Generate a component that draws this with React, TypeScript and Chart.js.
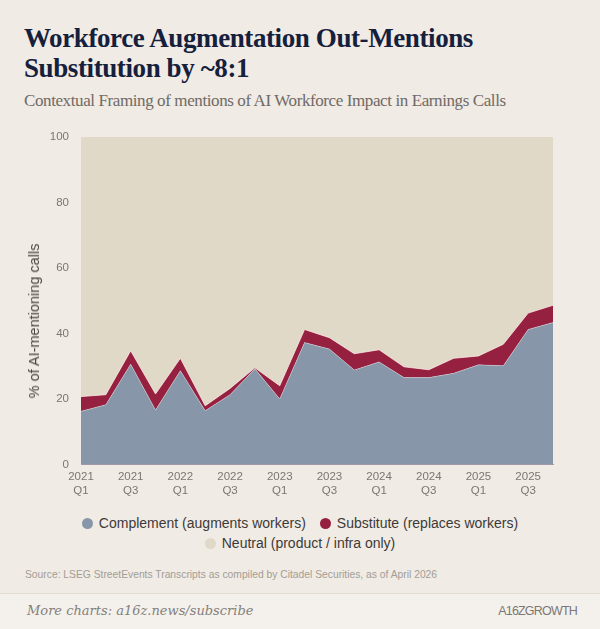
import React, { useEffect, useRef } from "react";
import { Chart, registerables } from "chart.js";

Chart.register(...registerables);

const quarterLabels = [
  "2021 Q1", "2021 Q2", "2021 Q3", "2021 Q4",
  "2022 Q1", "2022 Q2", "2022 Q3", "2022 Q4",
  "2023 Q1", "2023 Q2", "2023 Q3", "2023 Q4",
  "2024 Q1", "2024 Q2", "2024 Q3", "2024 Q4",
  "2025 Q1", "2025 Q2", "2025 Q3", "2025 Q4",
];

const complementValues = [16.2, 18.2, 30.6, 16.6, 28.6, 16.4, 21.3, 29.2, 20.0, 37.2, 35.2, 28.8, 31.3, 26.5, 26.5, 27.8, 30.4, 30.1, 41.2, 43.3];
const substituteValues = [4.5, 3.1, 4.1, 4.9, 3.8, 1.5, 1.9, 0.3, 4.0, 4.0, 3.5, 5.0, 3.7, 3.3, 2.4, 4.6, 2.7, 6.6, 5.0, 5.3];
const neutralValues = [79.3, 78.7, 65.3, 78.5, 67.6, 82.1, 76.8, 70.5, 76.0, 58.8, 61.3, 66.2, 65.0, 70.2, 71.1, 67.6, 66.9, 63.3, 53.8, 51.4];

const seriesNames = ["Complement (augments workers)", "Substitute (replaces workers)", "Neutral (product / infra only)"];
const seriesColors = ["#8796a9", "#962040", "#e1d9c7"];
const yTicks = [0, 20, 40, 60, 80, 100];
const yAxisTitle = "% of AI-mentioning calls";

const BG = "#f0ebe4";

export default function App() {
  const canvasRef = useRef<HTMLCanvasElement | null>(null);

  useEffect(() => {
    const canvas = canvasRef.current;
    if (!canvas) return;
    const chart = new Chart(canvas, {
      type: "line",
      data: {
        labels: quarterLabels,
        datasets: [
          {
            label: seriesNames[0],
            data: complementValues,
            backgroundColor: seriesColors[0],
            borderColor: "rgba(255,255,255,0.35)",
            borderWidth: 1,
            fill: "origin",
            pointRadius: 0,
            tension: 0,
          },
          {
            label: seriesNames[1],
            data: substituteValues,
            backgroundColor: seriesColors[1],
            borderColor: "rgba(255,235,235,0.75)",
            borderWidth: 1,
            fill: "-1",
            pointRadius: 0,
            tension: 0,
          },
          {
            label: seriesNames[2],
            data: neutralValues,
            backgroundColor: seriesColors[2],
            borderColor: "rgba(0,0,0,0)",
            borderWidth: 0,
            fill: "-1",
            pointRadius: 0,
            tension: 0,
          },
        ],
      },
      options: {
        responsive: false,
        animation: false,
        layout: { padding: { left: 50, right: 47, top: 17, bottom: 4 } },
        plugins: {
          legend: { display: false },
          tooltip: { enabled: false },
        },
        scales: {
          x: {
            type: "category",
            offset: false,
            grid: { display: false, drawTicks: false },
            border: { display: true, color: "#a39ca6", width: 1 },
            ticks: {
              autoSkip: false,
              maxRotation: 0,
              padding: 6,
              color: "#7a7672",
              font: { family: "'Liberation Sans', Arial, sans-serif", size: 11.5 },
              callback: (_v: any, i: number) => (i % 2 === 0 ? quarterLabels[i].split(" ") : ""),
            },
          },
          y: {
            stacked: true,
            min: yTicks[0],
            max: yTicks[yTicks.length - 1],
            grid: { display: false, drawTicks: false },
            border: { display: false },
            afterBuildTicks: (axis: any) => {
              axis.ticks = yTicks.map((v) => ({ value: v }));
            },
            afterFit: (axis: any) => {
              axis.width = 31;
            },
            ticks: {
              padding: 12,
              color: "#7a7672",
              font: { family: "'Liberation Sans', Arial, sans-serif", size: 11.5 },
            },
          },
        },
      },
    });
    return () => chart.destroy();
  }, []);

  const legendItem = (i: number) => (
    <span key={i} style={{ display: "inline-flex", alignItems: "center", margin: "0 7px" }}>
      <span
        style={{
          display: "inline-block",
          width: 11,
          height: 11,
          borderRadius: "50%",
          background: seriesColors[i],
          marginRight: 6,
        }}
      />
      {seriesNames[i]}
    </span>
  );

  return (
    <div
      style={{
        position: "absolute",
        left: 0,
        top: 0,
        width: 600,
        height: 629,
        background: BG,
        overflow: "hidden",
      }}
    >
      <div
        style={{
          position: "absolute",
          left: 24,
          top: 23,
          fontFamily: "'Liberation Serif', 'DejaVu Serif', serif",
          fontWeight: 700,
          fontSize: 27,
          lineHeight: "30px",
          color: "#15203d",
          letterSpacing: -0.4,
          whiteSpace: "nowrap",
        }}
      >
        Workforce Augmentation Out-Mentions
        <br />
        Substitution by ~8:1
      </div>
      <div
        style={{
          position: "absolute",
          left: 24,
          top: 91,
          fontFamily: "'Liberation Serif', 'DejaVu Serif', serif",
          fontSize: 17,
          color: "#6f6a66",
          letterSpacing: -0.4,
          whiteSpace: "nowrap",
        }}
      >
        Contextual Framing of mentions of AI Workforce Impact in Earnings Calls
      </div>
      <canvas
        ref={canvasRef}
        width={600}
        height={390}
        style={{ position: "absolute", left: 0, top: 118, width: 600, height: 390 }}
      />
      <div
        style={{
          position: "absolute",
          left: 34,
          top: 321,
          transform: "translate(-50%, -50%) rotate(-90deg)",
          fontFamily: "'Liberation Sans', Arial, sans-serif",
          fontSize: 14.5,
          color: "#4a4643",
          whiteSpace: "nowrap",
        }}
      >
        {yAxisTitle}
      </div>
      <div
        style={{
          position: "absolute",
          left: 0,
          top: 514,
          width: 600,
          textAlign: "center",
          fontFamily: "'Liberation Sans', Arial, sans-serif",
          fontSize: 14,
          lineHeight: "19px",
          color: "#3d3a38",
        }}
      >
        <div>
          {legendItem(0)}
          {legendItem(1)}
        </div>
        <div>{legendItem(2)}</div>
      </div>
      <div
        style={{
          position: "absolute",
          left: 25,
          top: 569,
          fontFamily: "'Liberation Sans', Arial, sans-serif",
          fontSize: 10.3,
          color: "#a39d96",
          whiteSpace: "nowrap",
        }}
      >
        Source: LSEG StreetEvents Transcripts as compiled by Citadel Securities, as of April 2026
      </div>
      <div
        style={{
          position: "absolute",
          left: 0,
          top: 593,
          width: 600,
          height: 36,
          background: "#f4f1ec",
          borderTop: "1px solid #e2dbd0",
        }}
      >
        <div
          style={{
            position: "absolute",
            left: 27,
            top: 9,
            fontFamily: "'DejaVu Serif', 'Liberation Serif', serif",
            fontStyle: "italic",
            fontSize: 13,
            color: "#85807b",
            whiteSpace: "nowrap",
          }}
        >
          More charts: a16z.news/subscribe
        </div>
        <div
          style={{
            position: "absolute",
            right: 23,
            top: 10,
            fontFamily: "'Liberation Sans', Arial, sans-serif",
            fontSize: 12.5,
            color: "#7d7874",
            letterSpacing: -0.8,
            whiteSpace: "nowrap",
          }}
        >
          A16ZGROWTH
        </div>
      </div>
    </div>
  );
}
